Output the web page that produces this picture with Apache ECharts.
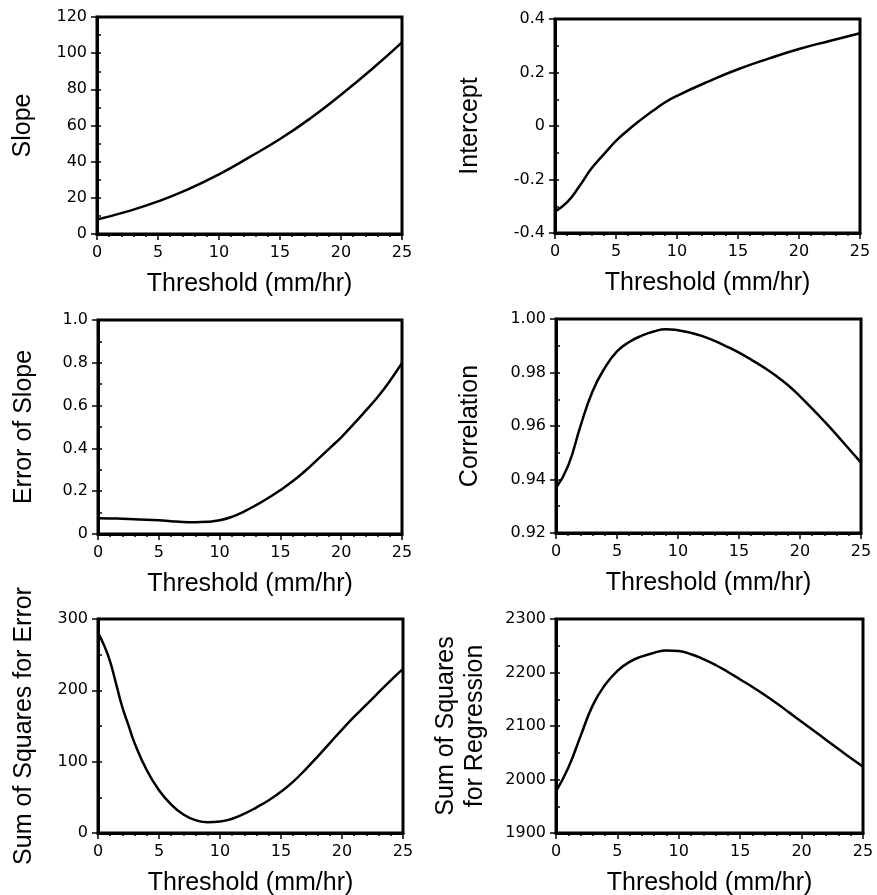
<!DOCTYPE html>
<html><head><meta charset="utf-8">
<script src="https://cdn.jsdelivr.net/npm/echarts@6/dist/echarts.min.js"></script>
<style>html,body{margin:0;padding:0;background:#fff}#c{width:877px;height:895px}</style>
</head><body><div id="c"></div>
<script>
// ---- data ----
const xTitle = 'Threshold (mm/hr)';

const slopeX = [0, 2.5, 5, 7.5, 10, 12.5, 15, 17.5, 20, 22.5, 25];
const slopeY = [8, 12.5, 18, 24.8, 33, 42.5, 52.5, 64, 77, 91, 106];

const interceptX = [0, 1, 2, 3, 4, 5, 6, 7, 8, 9, 10, 12.5, 15, 17.5, 20, 22.5, 25];
const interceptY = [-0.32, -0.285, -0.225, -0.158, -0.106, -0.056, -0.015, 0.022, 0.056, 0.088, 0.113, 0.165, 0.212, 0.252, 0.288, 0.318, 0.347];

const errSlopeX = [0, 1, 2, 3, 4, 5, 6, 7, 8, 9, 10, 11, 12, 13, 14, 15, 16, 17, 18, 19, 20, 21, 22, 23, 24, 25];
const errSlopeY = [0.074, 0.073, 0.071, 0.069, 0.067, 0.064, 0.060, 0.056, 0.055, 0.057, 0.064, 0.080, 0.105, 0.135, 0.168, 0.205, 0.246, 0.293, 0.345, 0.398, 0.452, 0.512, 0.575, 0.640, 0.715, 0.800];

const corrX = [0, 1, 2, 3, 4, 5, 6, 7, 8, 9, 10, 11, 12, 13, 14, 15, 16, 17, 18, 19, 20, 21, 22, 23, 24, 25];
const corrY = [0.9368, 0.9452, 0.9599, 0.9730, 0.9817, 0.9879, 0.9914, 0.9937, 0.9953, 0.9962, 0.9958, 0.9949, 0.9936, 0.9918, 0.9897, 0.9874, 0.9848, 0.9820, 0.9789, 0.9753, 0.9711, 0.9665, 0.9617, 0.9567, 0.9515, 0.9463];

const sseX = [0, 0.5, 1, 1.5, 2, 2.5, 3, 4, 5, 6, 7, 8, 9, 10, 11, 12, 13, 14, 15, 16, 17, 18, 19, 20, 21, 22, 23, 24, 25];
const sseY = [281, 263, 240, 208, 176, 151, 126, 88, 60, 40, 26, 18, 15, 16, 20, 27, 36, 46, 58, 72, 89, 107, 126, 145, 163, 180, 197, 214, 230];

const ssrX = [0, 1, 2, 3, 4, 5, 6, 7, 8, 9, 10, 11, 12, 13, 14, 15, 16, 17, 18, 19, 20, 21, 22, 23, 24, 25];
const ssrY = [1978, 2022, 2081, 2139, 2177, 2203, 2220, 2230, 2237, 2241, 2240, 2234, 2225, 2214, 2201, 2187, 2173, 2158, 2142, 2125, 2108, 2091, 2074, 2057, 2040, 2024];

// ---- panels ----
const panels = [
  {name:'Slope', x:slopeX, y:slopeY, min:0, max:120, step:20, minor:10, fmt:v=>String(v),
   grid:{left:97, top:17, width:305, height:217}, gap:59},
  {name:'Intercept', x:interceptX, y:interceptY, min:-0.4, max:0.4, step:0.2, minor:0.1, fmt:v=>(Math.abs(v)<1e-9?'0':String(+v.toFixed(1))),
   grid:{left:555, top:19, width:305, height:214}, gap:70},
  {name:'Error of Slope', x:errSlopeX, y:errSlopeY, min:0, max:1, step:0.2, minor:0.1, fmt:v=>(Math.abs(v)<1e-9?'0':v.toFixed(1)),
   grid:{left:98, top:320, width:304, height:214}, gap:59},
  {name:'Correlation', x:corrX, y:corrY, min:0.92, max:1.0, step:0.02, minor:0.01, fmt:v=>v.toFixed(2),
   grid:{left:556, top:319, width:305, height:214}, gap:71},
  {name:'Sum of Squares for Error', x:sseX, y:sseY, min:0, max:300, step:100, minor:50, fmt:v=>String(v),
   grid:{left:98, top:619, width:305, height:214}, gap:59},
  {name:'Sum of Squares\nfor Regression', x:ssrX, y:ssrY, min:1900, max:2300, step:100, minor:50, fmt:v=>String(v),
   grid:{left:556, top:619, width:307, height:214}, gap:66}
];

const tickFont = {fontFamily:'DejaVu Sans', fontSize:16, color:'#000'};
const titleFont = {fontFamily:'Liberation Sans', fontSize:25, color:'#000', lineHeight:29};

const grid = [], xAxis = [], yAxis = [], series = [];
panels.forEach((p, i) => {
  grid.push(Object.assign({show:true, borderColor:'#000', borderWidth:3, containLabel:false, outerBoundsMode:'none'}, p.grid));
  xAxis.push({
    type:'value', gridIndex:i, min:0, max:25, interval:5,
    name:xTitle, nameLocation:'middle', nameGap:36, nameTextStyle:titleFont,
    axisLine:{show:true, onZero:false, lineStyle:{color:'#000', width:3}},
    axisTick:{show:true, inside:false, length:6, lineStyle:{color:'#000', width:1.5}},
    minorTick:{show:true, splitNumber:5, length:3, lineStyle:{color:'#000', width:1.5}},
    axisLabel:Object.assign({margin:11}, tickFont),
    splitLine:{show:false}
  });
  yAxis.push({
    type:'value', gridIndex:i, position:'left', min:p.min, max:p.max, interval:p.step,
    name:p.name, nameLocation:'middle', nameGap:p.gap, nameTextStyle:titleFont,
    axisLine:{show:true, onZero:false, lineStyle:{color:'#000', width:3}},
    axisTick:{show:true, inside:false, length:6, lineStyle:{color:'#000', width:1.5}},
    axisLabel:Object.assign({margin:10, formatter:p.fmt}, tickFont),
    splitLine:{show:false}
  });
  yAxis.push({
    type:'value', gridIndex:i, position:'left', min:p.min, max:p.max, interval:p.minor,
    axisLine:{show:false, onZero:false},
    axisTick:{show:true, inside:true, length:4, lineStyle:{color:'#000', width:1.5}},
    axisLabel:{show:false}, splitLine:{show:false}
  });
  series.push({
    type:'line', xAxisIndex:i, yAxisIndex:2*i, smooth:0.5, showSymbol:false, silent:true,
    lineStyle:{color:'#000', width:2.5},
    data:p.x.map((xv, k) => [xv, p.y[k]])
  });
});

const chart = echarts.init(document.getElementById('c'), null, {renderer:'canvas'});
chart.setOption({backgroundColor:'#fff', animation:false, grid, xAxis, yAxis, series});
</script></body></html>
